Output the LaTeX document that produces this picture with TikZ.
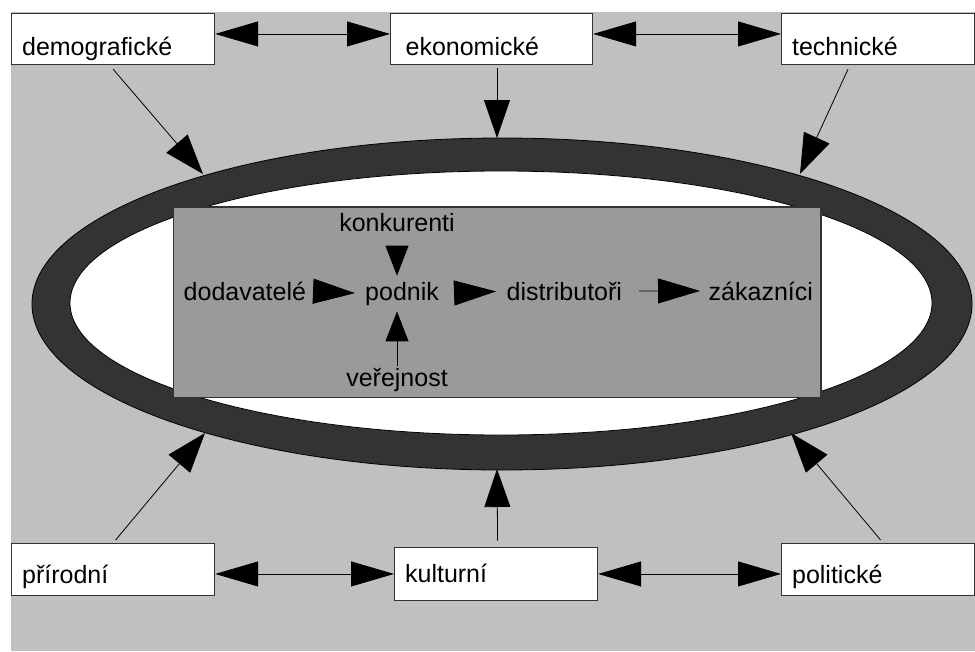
\documentclass[tikz,border=0pt]{standalone}
\usepackage{fontspec}
\setmainfont{Liberation Sans}
\usetikzlibrary{arrows.meta}
\definecolor{bggrey}{HTML}{C0C0C0}
\definecolor{ringgrey}{HTML}{333333}
\definecolor{coregrey}{HTML}{9A9A9A}

\begin{document}
\begin{tikzpicture}[x=1pt,y=-1pt,
  txt/.style={font=\fontsize{25pt}{30pt}\selectfont},
  lbl/.style={txt, inner sep=0pt},
  factor/.style={txt, draw=ringgrey, line width=1.2pt, fill=white,
    anchor=north west, inner xsep=10.5pt, inner ysep=0pt, align=left},
  topf/.style={text height=42.3pt, text depth=9pt},
  botf/.style={text height=40pt, text depth=12pt},
  link/.style={draw=black, line width=0.8pt},
  bigtip/.style={-{Triangle[length=40pt,width=28pt]}},
  midtip/.style={-{Triangle[length=38pt,width=26pt]}},
  flowtip/.style={-{Triangle[length=42pt,width=25pt]}},
  vtip/.style={-{Triangle[length=30pt,width=23pt]}},
  dbl/.style={link, {Triangle[length=43pt,width=25pt]}-{Triangle[length=43pt,width=25pt]}}
]
% canvas
\useasboundingbox (0,0) rectangle (975,651);
\fill[white] (0,0) rectangle (975,651);
\fill[bggrey] (11,12) rectangle (975,651);

% environment ring
\draw[fill=ringgrey, line width=0.8pt] (502,304) ellipse [x radius=470pt, y radius=166pt];
\draw[fill=white, line width=0.8pt] (501,303) ellipse [x radius=431pt, y radius=132pt];

% micro-environment panel
\draw[fill=coregrey, draw=ringgrey, line width=1.2pt] (173.5,207) rectangle (821,397.5);

% outer factors
\node[factor, topf, text width=182pt] (demo) at (11,12.7) {demografické};
\node[factor, topf, inner xsep=15pt, text width=172pt] (eko) at (390,12.7) {ekonomické};
\node[factor, topf, text width=172pt] (tech) at (781,12.7) {technické};
\node[factor, botf, text width=182pt] (prir) at (11,543) {přírodní};
\node[factor, text height=35pt, text depth=18.3pt, text width=182pt] (kult) at (394,546.7) {kulturní};
\node[factor, botf, text width=172pt] (poli) at (781,543) {politické};

% points where the influences meet the ring
\coordinate (tipDemo) at (203,174);
\coordinate (tipEko)  at (497,138);
\coordinate (tipTech) at (800,174);
\coordinate (tipPrir) at (205,433);
\coordinate (tipKult) at (497,469);
\coordinate (tipPoli) at (791,433);

\draw[link, bigtip] ([yshift=-4pt]demo.south) -- (tipDemo);
\draw[link, midtip] ([xshift=107pt,yshift=-3pt]eko.south west) -- (tipEko);
\draw[link, bigtip] ([xshift=67pt,yshift=-4pt]tech.south west) -- (tipTech);
\draw[link, bigtip] ([xshift=2.5pt,yshift=3pt]prir.north) -- (tipPrir);
\draw[link, midtip] ([xshift=1.5pt,yshift=6pt]kult.north) -- (tipKult);
\draw[link, bigtip] ([xshift=2.5pt,yshift=3pt]poli.north) -- (tipPoli);

% mutual links between factors
\draw[dbl] ([yshift=5pt]demo.east) -- ([yshift=5pt]eko.west);
\draw[dbl] ([yshift=5pt]eko.east) -- ([yshift=5pt]tech.west);
\draw[dbl] (prir.east |- kult.west) -- (kult.west);
\draw[dbl] (kult.east) -- (kult.east -| poli.west);

% micro-environment chain
\node[lbl, anchor=base west] (dod)  at (183.5,300) {dodavatelé};
\node[lbl, anchor=base west] (pod)  at (365,300) {podnik};
\node[lbl, anchor=base west] (dist) at (506.5,300) {distributoři};
\node[lbl, anchor=base west] (zak)  at (708.5,300) {zákazníci};
\node[lbl, anchor=base] (konk)  at (397,231) {konkurenti};
\node[lbl, anchor=base] (verej) at (397,386) {veřejnost};

\draw[link, flowtip, shorten <=7pt, shorten >=10pt] (dod.east) -- (pod.west);
\draw[link, flowtip, shorten <=16pt, shorten >=10.5pt] (pod.east) -- (dist.west);
\draw[link, flowtip, shorten <=17pt, shorten >=8.5pt] (dist.east) -- (zak.west);
\draw[link, vtip, shorten <=16pt, shorten >=6pt] (konk.south) -- (pod.north -| konk.south);
\draw[link, vtip, shorten <=2pt, shorten >=6pt] (verej.north) -- (pod.south -| verej.north);
\end{tikzpicture}
\end{document}
